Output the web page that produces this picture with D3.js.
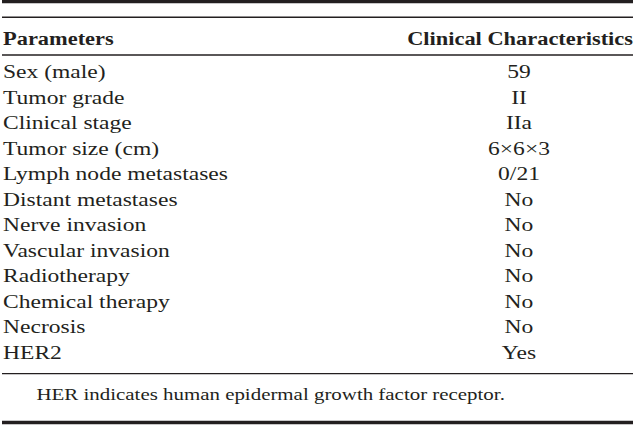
<!DOCTYPE html>
<html>
<head>
<meta charset="utf-8">
<script src="https://cdn.jsdelivr.net/npm/d3@7"></script>
<style>
  html, body { margin: 0; padding: 0; background: #fff; }
  svg { display: block; }
</style>
</head>
<body>
<svg id="chart" width="636" height="425"></svg>
<script>
// ---- data ----
const headers = ["Parameters", "Clinical Characteristics"];
const parameters = [
  "Sex (male)", "Tumor grade", "Clinical stage", "Tumor size (cm)",
  "Lymph node metastases", "Distant metastases", "Nerve invasion",
  "Vascular invasion", "Radiotherapy", "Chemical therapy", "Necrosis", "HER2"
];
const characteristics = [
  "59", "II", "IIa", "6\u00d76\u00d73", "0/21", "No", "No", "No", "No", "No", "No", "Yes"
];
const footnote = "HER indicates human epidermal growth factor receptor.";

// ---- layout ----
const xLeft = 3, xRight = 633, valueCenter = 519;
const FONT = '"Liberation Serif", "Times New Roman", serif';
const INK = "#231f20";
const svg = d3.select("#chart");

const rowY = d3.scalePoint().domain(parameters).range([78, 358.5]);

function addText(g, x, y, str, size, sx, anchor, weight) {
  const t = g.append("g").attr("transform", `translate(${x},${y}) scale(${sx},1)`);
  t.append("text")
    .attr("x", 0).attr("y", 0)
    .attr("text-anchor", anchor)
    .style("font-family", FONT)
    .style("font-size", size + "px")
    .style("font-weight", weight || "normal")
    .style("fill", INK)
    .text(str);
}

// rules
const rules = [
  { y: 1.6, w: 3.2 },
  { y: 17.2, w: 1.4 },
  { y: 55, w: 1.3 },
  { y: 373.6, w: 1.4 },
  { y: 422.5, w: 3.6 }
];
svg.selectAll("line.rule").data(rules).enter().append("line")
  .attr("class", "rule")
  .attr("x1", 2).attr("x2", xRight)
  .attr("y1", d => d.y).attr("y2", d => d.y)
  .attr("stroke", INK).attr("stroke-width", d => d.w);

// header
addText(svg, xLeft, 45, headers[0], 19, 1.18, "start", "bold");
addText(svg, xRight, 45, headers[1], 19, 1.18, "end", "bold");

// rows
const rows = svg.append("g");
parameters.forEach((p, i) => {
  addText(rows, xLeft, rowY(p), p, 18.4, 1.28, "start");
  addText(rows, valueCenter, rowY(p), characteristics[i], 18.4, 1.28, "middle");
});

// footnote
addText(svg, 36.5, 399.5, footnote, 17, 1.23, "start");
</script>
</body>
</html>
